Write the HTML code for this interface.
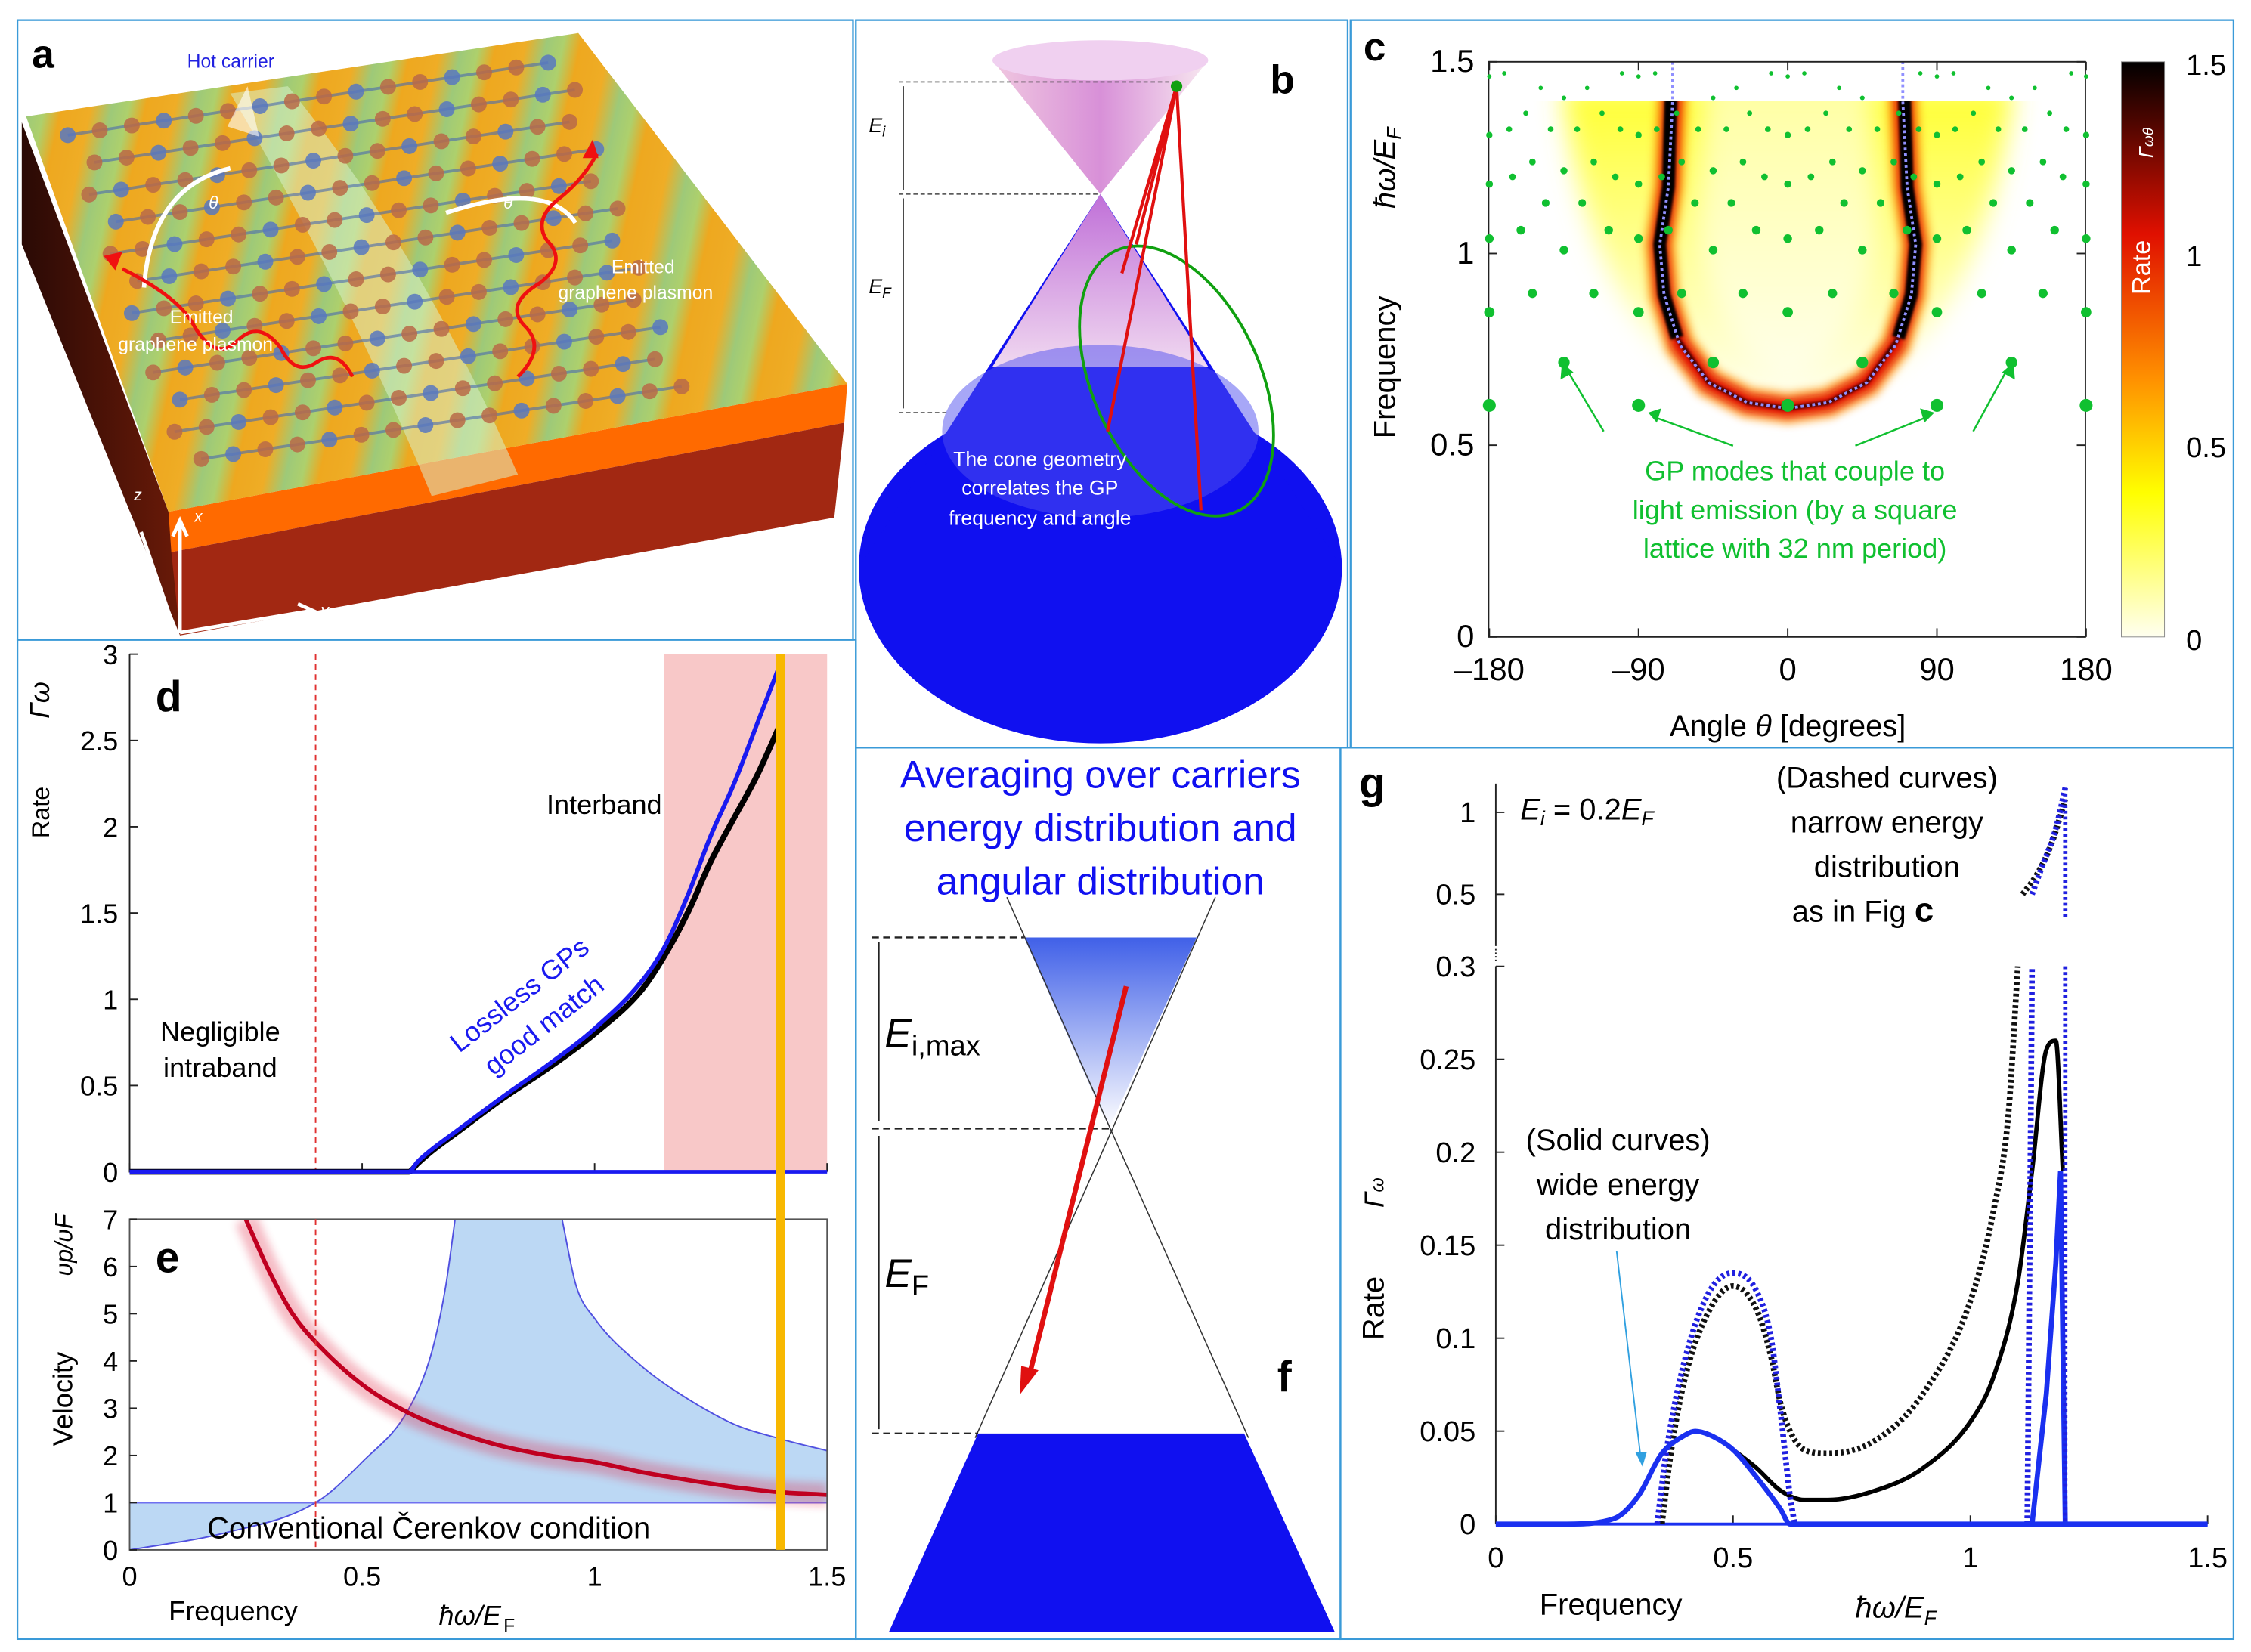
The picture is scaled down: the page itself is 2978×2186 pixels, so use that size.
<!DOCTYPE html>
<html><head><meta charset="utf-8"><style>
html,body{margin:0;padding:0;background:#fff;}
svg{display:block;font-family:"Liberation Sans",sans-serif;}
</style></head><body>
<svg id="fig" width="2978" height="2186" viewBox="0 0 1565 1149" xmlns="http://www.w3.org/2000/svg">
<defs>
<linearGradient id="stripes" gradientUnits="userSpaceOnUse" x1="0" y1="0" x2="56" y2="12" spreadMethod="repeat">
<stop offset="0" stop-color="#f09a20"/><stop offset="0.35" stop-color="#f2a028"/><stop offset="0.6" stop-color="#8cc490"/><stop offset="0.8" stop-color="#a0cc80"/><stop offset="1" stop-color="#f09a20"/></linearGradient>
<linearGradient id="leftg" x1="0" y1="0" x2="1" y2="0"><stop offset="0" stop-color="#2a0a05"/><stop offset="1" stop-color="#6a1a08"/></linearGradient>
<linearGradient id="cbar" x1="0" y1="0" x2="0" y2="1"><stop offset="0" stop-color="#000"/><stop offset="0.3" stop-color="#e01000"/><stop offset="0.55" stop-color="#ff9000"/><stop offset="0.75" stop-color="#ffff00"/><stop offset="1" stop-color="#fffff0"/></linearGradient>
<linearGradient id="cone1" x1="0" y1="0" x2="1" y2="0"><stop offset="0" stop-color="#f0c8e0"/><stop offset="0.5" stop-color="#d890d8"/><stop offset="1" stop-color="#f8e8f0"/></linearGradient>
<linearGradient id="cone2" x1="0" y1="0" x2="0" y2="1"><stop offset="0" stop-color="#c070d8"/><stop offset="1" stop-color="#f0d8f0"/></linearGradient>
<linearGradient id="fdots" x1="0" y1="0" x2="0" y2="1"><stop offset="0" stop-color="#4060e8"/><stop offset="1" stop-color="#ffffff"/></linearGradient>
<linearGradient id="heatv" x1="0" y1="0" x2="0" y2="1"><stop offset="0" stop-color="#ffff30"/><stop offset="0.5" stop-color="#ffff90"/><stop offset="1" stop-color="#fffff0"/></linearGradient>
<filter id="blur4" x="-30%" y="-30%" width="160%" height="160%"><feGaussianBlur stdDeviation="3"/></filter>
<filter id="blur8" x="-30%" y="-30%" width="160%" height="160%"><feGaussianBlur stdDeviation="9"/></filter>
<filter id="blur1"><feGaussianBlur stdDeviation="0.8"/></filter>
<clipPath id="cclip"><rect x="1035" y="70" width="415" height="373"/></clipPath>
<clipPath id="eclip"><rect x="90" y="848" width="485" height="230"/></clipPath>
</defs>

<g fill="none" stroke="#3a9ad8" stroke-width="1.2">
<rect x="12" y="14" width="581" height="431"/><rect x="595" y="14" width="342" height="506"/>
<rect x="939" y="14" width="614" height="506"/><rect x="12" y="445" width="583" height="695"/>
<rect x="595" y="520" width="337" height="620"/><rect x="932" y="520" width="621" height="620"/>
</g>

<g>
<polygon points="15,85 117,356 125,442 15,170" fill="url(#leftg)"/>
<polygon points="117,356 589,267 587,294 119,384" fill="#ff6a00"/>
<polygon points="119,384 587,294 580,360 125,442" fill="#a22812"/>
<polygon points="18,81 402,23 589,267 117,356" fill="url(#stripes)"/>
<polygon points="18,81 402,23 589,267 117,356" fill="#e8e020" opacity="0.2"/>
<path d="M200,60 Q290,170 360,330 L300,345 Q240,200 160,65 Z" fill="#d8f0c8" opacity="0.55"/>
<g id="lattice"></g>
<path d="M158,88 L172,60 L180,95" fill="#fff" opacity="0.6"/>
<path d="M100,200 Q105,130 160,117" stroke="#fff" stroke-width="3" fill="none"/>
<path d="M310,148 Q380,125 400,155" stroke="#fff" stroke-width="3" fill="none"/>
<path d="M245,262 q-10,-20 -25,-10 q-15,10 -25,-10 q-15,-20 -30,-5 q-15,15 -30,-10 q-10,-20 -50,-40" stroke="#f01010" stroke-width="2.5" fill="none"/>
<polygon points="72,178 85,175 80,188" fill="#f01010"/>
<path d="M360,262 q20,-20 5,-35 q-15,-15 10,-30 q20,-15 5,-30 q-10,-15 10,-30 q15,-12 25,-30" stroke="#f01010" stroke-width="2.5" fill="none"/>
<polygon points="412,97 405,110 416,110" fill="#f01010"/>
<text x="22" y="47" font-size="28" font-weight="bold">a</text>
<text x="130" y="47" font-size="13" fill="#2020e0">Hot carrier</text>
<text x="118" y="225" font-size="13" fill="#fff">Emitted</text>
<text x="82" y="244" font-size="13" fill="#fff">graphene plasmon</text>
<text x="425" y="190" font-size="13" fill="#fff">Emitted</text>
<text x="388" y="208" font-size="13" fill="#fff">graphene plasmon</text>
<text x="145" y="145" font-size="12" fill="#fff" font-style="italic">θ</text>
<text x="350" y="145" font-size="12" fill="#fff" font-style="italic">θ</text>
<path d="M125,440 L125,365 M120,373 L125,362 L130,373 M125,440 L215,425 M207,420 L218,425 L208,431 M122,440 L98,370" stroke="#fff" stroke-width="2.5" fill="none"/>
<text x="135" y="363" font-size="11" fill="#fff" font-style="italic">x</text>
<text x="223" y="428" font-size="11" fill="#fff" font-style="italic">y</text>
<text x="93" y="348" font-size="11" fill="#fff" font-style="italic">z</text>
</g>

<g>
<ellipse cx="765" cy="395" rx="168" ry="122" fill="#1010f0"/>
<polygon points="765,135 597,395 933,395" fill="#1010f0"/>
<polygon points="765,135 690,255 840,255" fill="url(#cone2)"/>
<ellipse cx="765" cy="300" rx="110" ry="60" fill="#5050f0" opacity="0.5"/>
<polygon points="690,42 840,42 765,135" fill="url(#cone1)"/>
<ellipse cx="765" cy="42" rx="75" ry="14" fill="#f0d0f0"/>
<g stroke="#444" stroke-dasharray="3,2" stroke-width="0.8"><line x1="625" y1="57" x2="818" y2="57"/><line x1="625" y1="135" x2="765" y2="135"/><line x1="625" y1="287" x2="660" y2="287"/></g>
<g stroke="#222" stroke-width="0.8"><line x1="628" y1="60" x2="628" y2="132"/><line x1="628" y1="138" x2="628" y2="284"/></g>
<text x="604" y="92" font-size="14" font-style="italic">E<tspan font-size="10" dy="3">i</tspan></text>
<text x="604" y="204" font-size="14" font-style="italic">E<tspan font-size="10" dy="3">F</tspan></text>
<ellipse cx="818" cy="265" rx="58" ry="100" transform="rotate(-25 818 265)" fill="none" stroke="#10a010" stroke-width="2"/>
<g stroke="#e01010" stroke-width="2.2"><line x1="818" y1="60" x2="770" y2="300"/><line x1="818" y1="60" x2="780" y2="190"/><line x1="818" y1="60" x2="835" y2="355"/><line x1="818" y1="60" x2="790" y2="170"/></g>
<circle cx="818" cy="60" r="4" fill="#10a010"/>
<text x="883" y="65" font-size="28" font-weight="bold">b</text>
<text x="723" y="324" font-size="14" fill="#fff" text-anchor="middle">The cone geometry</text>
<text x="723" y="344" font-size="14" fill="#fff" text-anchor="middle">correlates the GP</text>
<text x="723" y="365" font-size="14" fill="#fff" text-anchor="middle">frequency and angle</text>
</g>

<g id="pc">
<text x="948" y="42" font-size="28" font-weight="bold">c</text>
<g clip-path="url(#cclip)">
<path d="M1086,60 L1400,60 Q1380,220 1300,265 Q1243,300 1186,265 Q1105,220 1086,60Z" fill="url(#heatv)" filter="url(#blur8)"/>
<path d="M1185,60 L1301,60 L1305,160 Q1300,230 1243,270 Q1186,230 1181,160Z" fill="#fffff0" filter="url(#blur8)" opacity="0.6"/>
<path d="M1163,60 L1160,130 L1154,170 L1157,205 L1168,240 L1188,266 L1215,280 L1243,284 L1271,280 L1298,266 L1318,240 L1329,205 L1332,170 L1326,130 L1323,60" stroke="#ff9000" stroke-width="22" fill="none" filter="url(#blur4)" opacity="0.7"/>
<path d="M1163,60 L1160,130 L1154,170 L1157,205 L1168,240 L1188,266 L1215,280 L1243,284 L1271,280 L1298,266 L1318,240 L1329,205 L1332,170 L1326,130 L1323,60" stroke="#e01000" stroke-width="12" fill="none" filter="url(#blur4)"/>
<path d="M1162,60 L1160,130 L1154,170 L1157,205 L1166,235 M1320,235 L1329,205 L1332,170 L1326,130 L1324,60" stroke="#000" stroke-width="9" fill="none" filter="url(#blur1)"/>
<path d="M1166,235 L1188,266 L1215,280 L1243,284 L1271,280 L1298,266 L1320,235" stroke="#400000" stroke-width="3" fill="none" filter="url(#blur1)"/>
</g>
<path d="M1163,43 L1163,70 L1160,130 L1154,170 L1157,205 L1168,240 L1188,266 L1215,280 L1243,284 L1271,280 L1298,266 L1318,240 L1329,205 L1332,170 L1326,130 L1323,70 L1323,43" stroke="#9090ff" stroke-width="2" stroke-dasharray="2,2" fill="none"/>
<rect x="1035" y="43" width="415" height="400" fill="none" stroke="#222" stroke-width="1"/>
<g id="gdots" fill="#10c030"></g>
<rect x="1475" y="43" width="30" height="400" fill="url(#cbar)" stroke="#888" stroke-width="0.5"/>
<text x="1520" y="52" font-size="20">1.5</text><text x="1520" y="185" font-size="20">1</text><text x="1520" y="318" font-size="20">0.5</text><text x="1520" y="452" font-size="20">0</text>
<text transform="translate(1495,205) rotate(-90)" font-size="18" fill="#fff">Rate</text>
<text transform="translate(1497,110) rotate(-90)" font-size="14" fill="#fff" font-style="italic">Γ<tspan font-size="10">ωθ</tspan></text>
<g id="cxt" font-size="20" text-anchor="middle"></g>
<g id="cyt" font-size="20" text-anchor="end"></g>
<text x="1243" y="512" font-size="21" text-anchor="middle">Angle <tspan font-style="italic">θ</tspan> [degrees]</text>
<text transform="translate(970,305) rotate(-90)" font-size="21">Frequency</text>
<text transform="translate(970,145) rotate(-90)" font-size="21" font-style="italic">ħω/E<tspan font-size="14" dy="4">F</tspan></text>
<text x="1248" y="334" font-size="19" fill="#10c030" text-anchor="middle">GP modes that couple to</text>
<text x="1248" y="361" font-size="19" fill="#10c030" text-anchor="middle">light emission (by a square</text>
<text x="1248" y="388" font-size="19" fill="#10c030" text-anchor="middle">lattice with 32 nm period)</text>
<g stroke="#10c030" stroke-width="1.3"><line x1="1115" y1="300" x2="1090" y2="258"/><line x1="1205" y1="310" x2="1150" y2="290"/><line x1="1290" y1="310" x2="1340" y2="290"/><line x1="1372" y1="300" x2="1395" y2="258"/></g>
<g fill="#10c030"><polygon points="1086,252 1085,264 1094,259"/><polygon points="1146,287 1155,284 1152,294"/><polygon points="1345,287 1335,284 1338,294"/><polygon points="1400,252 1401,264 1392,259"/></g>
</g>

<g id="pd">
<text x="108" y="495" font-size="30" font-weight="bold">d</text>
</g>
<g id="pe">
<text x="108" y="885" font-size="30" font-weight="bold">e</text>
</g>

<g>
<text x="765" y="548" font-size="27" fill="#1010f0" text-anchor="middle">Averaging over carriers</text>
<text x="765" y="585" font-size="27" fill="#1010f0" text-anchor="middle">energy distribution and</text>
<text x="765" y="622" font-size="27" fill="#1010f0" text-anchor="middle">angular distribution</text>
<polygon points="712,652 832,652 771,785" fill="url(#fdots)"/>
<g stroke="#333" stroke-width="0.8"><line x1="700" y1="624" x2="868" y2="1000"/><line x1="845" y1="624" x2="678" y2="1000"/></g>
<polygon points="680,997 865,997 928,1135 618,1135" fill="#1010f0"/>
<g stroke="#222" stroke-dasharray="5,3" stroke-width="1.2"><line x1="606" y1="652" x2="712" y2="652"/><line x1="606" y1="785" x2="771" y2="785"/><line x1="606" y1="997" x2="680" y2="997"/></g>
<g stroke="#222" stroke-width="1"><line x1="611" y1="655" x2="611" y2="780"/><line x1="611" y1="790" x2="611" y2="994"/></g>
<text x="615" y="728" font-size="28" font-style="italic">E<tspan font-size="20" font-style="normal" dy="6">i,max</tspan></text>
<text x="615" y="895" font-size="28" font-style="italic">E<tspan font-size="20" font-style="normal" dy="6">F</tspan></text>
<line x1="783" y1="686" x2="716" y2="955" stroke="#e01010" stroke-width="3.5"/>
<polygon points="709,970 710,950 722,953" fill="#e01010"/>
<text x="888" y="968" font-size="30" font-weight="bold">f</text>
</g>

<g id="pg">
<text x="945" y="555" font-size="30" font-weight="bold">g</text>
<text x="1057" y="570" font-size="21" font-style="italic">E<tspan font-size="14" dy="4">i</tspan><tspan dy="-4" font-style="normal"> = 0.2</tspan>E<tspan font-size="14" dy="4">F</tspan></text>
<text x="1312" y="548" font-size="21" text-anchor="middle">(Dashed curves)</text>
<text x="1312" y="579" font-size="21" text-anchor="middle">narrow energy</text>
<text x="1312" y="610" font-size="21" text-anchor="middle">distribution</text>
<text x="1246" y="641" font-size="21">as in Fig <tspan font-weight="bold" font-size="24">c</tspan></text>
<text x="1125" y="800" font-size="21" text-anchor="middle">(Solid curves)</text>
<text x="1125" y="831" font-size="21" text-anchor="middle">wide energy</text>
<text x="1125" y="862" font-size="21" text-anchor="middle">distribution</text>
<line x1="1124" y1="870" x2="1141" y2="1016" stroke="#30a0e0" stroke-width="1"/>
<polygon points="1137,1010 1145,1010 1142,1020" fill="#30a0e0"/>
<text transform="translate(962,932) rotate(-90)" font-size="21">Rate</text>
<text transform="translate(962,840) rotate(-90)" font-size="19" font-style="italic">Γ<tspan font-size="13">ω</tspan></text>
<text x="1120" y="1123" font-size="21" text-anchor="middle">Frequency</text>
<text x="1290" y="1125" font-size="21" font-style="italic">ħω/E<tspan font-size="14" dy="5">F</tspan></text>
</g>
</svg>

<script>
// ---------- Panel c data ----------
var cAngleTicks=[-180,-90,0,90,180];
var cAngleLabels=["\u2013180","\u201390","0","90","180"];
var cFreqTicks=[0,0.5,1,1.5];
var cFreqLabels=["0","0.5","1","1.5"];
var cDotFreqs=[0.604,0.716,0.847,0.896,1.009,1.039,1.061,1.132,1.181,1.200,1.216,1.239,1.309,1.324,1.366,1.406,1.432,1.462,1.47];
var cDotAngles=[[0,90,180],[45,135],[0,90,180],[27,64,117,154],[45,135],[0,90,180],[19,72,108,161],[34,56,124,146],[0,90,180],[14,76,104,166],[45,135],[27,64,117,154],[0,90,180],[12,37,54,79,101,127,143,168],[23,67,112,158],[45,135],[31,121,149],[0,90,180],[10,80,100,171]];
var cDotSizes=[4.5,4,3.6,3.2,3,3,3,2.7,2.5,2.3,2.5,2.3,2.2,2,1.8,1.6,1.5,1.5,1.5];
// ---------- Panel d data ----------
var dXTicks=[0,0.5,1,1.5];
var dYTicks=[0,0.5,1,1.5,2,2.5,3];
var dYLabels=["0","0.5","1","1.5","2","2.5","3"];
var dFreqBlack=[0,0.3,0.6,0.62,0.65,0.7,0.8,0.9,1.0,1.1,1.15,1.2,1.25,1.3,1.35,1.4];
var dRateBlack=[0,0,0,0.05,0.12,0.22,0.42,0.6,0.8,1.05,1.25,1.5,1.8,2.05,2.3,2.6];
var dFreqBlue=[0,0.3,0.6,0.62,0.65,0.7,0.8,0.9,1.0,1.1,1.15,1.2,1.25,1.3,1.35,1.4];
var dRateBlue=[0,0,0,0.06,0.13,0.23,0.43,0.62,0.83,1.1,1.3,1.6,1.95,2.25,2.6,2.95];
// ---------- Panel e data ----------
var eXTicks=[0,0.5,1,1.5];
var eXLabels=["0","0.5","1","1.5"];
var eYTicks=[0,1,2,3,4,5,6,7];
var eFreqRed=[0.25,0.3,0.35,0.4,0.5,0.6,0.7,0.8,0.9,1.0,1.1,1.2,1.3,1.4,1.5];
var eVelRed=[7,5.9,5.0,4.4,3.5,2.9,2.5,2.2,2.0,1.86,1.65,1.48,1.33,1.22,1.17];
var eFreqLeft=[0,0.2,0.4,0.5,0.6,0.65,0.68,0.7];
var eVelLeft=[0,0.35,1,1.86,2.98,4.2,5.6,7];
var eFreqRight=[0.93,0.96,1.0,1.1,1.2,1.3,1.4,1.5];
var eVelRight=[7,5.6,4.9,3.9,3.2,2.66,2.35,2.1];
// ---------- Panel g data ----------
var gXTicks=[0,0.5,1,1.5];
var gYTicksLow=[0,0.05,0.1,0.15,0.2,0.25,0.3];
var gYLabelsLow=["0","0.05","0.1","0.15","0.2","0.25","0.3"];
var gYTicksHigh=[0.5,1];
var gFreqBlackSolid=[0.5,0.55,0.6,0.65,0.7,0.8,0.9,1.0,1.05,1.1,1.13,1.16,1.18,1.195];
var gRateBlackSolid=[0.04,0.03,0.018,0.013,0.013,0.018,0.03,0.055,0.08,0.13,0.19,0.255,0.26,0.19];
var gFreqBlueSolid=[0,0.15,0.25,0.3,0.35,0.4,0.42,0.45,0.5,0.55,0.6,0.62,1.5];
var gRateBlueSolid=[0,0,0.003,0.015,0.038,0.048,0.05,0.048,0.04,0.025,0.008,0,0];
var gFreqBlueSpike=[1.13,1.16,1.18,1.19,1.2];
var gRateBlueSpike=[0,0.07,0.14,0.19,0];
var gFreqBlackDot=[0.35,0.37,0.4,0.45,0.5,0.55,0.58,0.6,0.62,0.65,0.7,0.8,0.9,1.0,1.05,1.08,1.1];
var gRateBlackDot=[0,0.04,0.08,0.115,0.128,0.115,0.09,0.065,0.05,0.04,0.038,0.045,0.07,0.12,0.17,0.22,0.3];
var gFreqBlueDot=[0.34,0.36,0.4,0.45,0.5,0.55,0.58,0.6,0.62,0.63];
var gRateBlueDot=[0,0.04,0.09,0.125,0.135,0.125,0.1,0.06,0.015,0];
var gFreqBlueDot2=[1.12,1.125,1.13];
var gRateBlueDot2=[0,0.15,0.3];
var gFreqUpperBlack=[1.11,1.14,1.17,1.19,1.2];
var gRateUpperBlack=[0.5,0.62,0.8,0.98,1.08];
var gFreqUpperBlue=[1.13,1.15,1.18,1.2];
var gRateUpperBlue=[0.5,0.66,0.9,1.15];

var NS="http://www.w3.org/2000/svg";
function mk(tag,attrs,parent){var e=document.createElementNS(NS,tag);for(var k in attrs)e.setAttribute(k,attrs[k]);parent.appendChild(e);return e;}
function txt(s,x,y,parent,size,anchor){var t=mk('text',{x:x,y:y,'font-size':size,'text-anchor':anchor||'middle'},parent);t.textContent=s;return t;}
function pathD(xs,ys,sx,sy){var d='';for(var i=0;i<xs.length;i++)d+=(i?'L':'M')+sx(xs[i]).toFixed(1)+','+sy(ys[i]).toFixed(1);return d;}
// monotone cubic (Fritsch-Carlson) in pixel space; no overshoot
function smoothD(xs,ys,sx,sy){var n=xs.length,X=[],Y=[];for(var i=0;i<n;i++){X.push(sx(xs[i]));Y.push(sy(ys[i]));}
if(n<3)return pathD(xs,ys,sx,sy);
var dl=[],m=[];for(var i=0;i<n-1;i++){var h=X[i+1]-X[i];dl.push(h===0?0:(Y[i+1]-Y[i])/h);}
m[0]=dl[0];m[n-1]=dl[n-2];
for(var i=1;i<n-1;i++){if(dl[i-1]*dl[i]<=0)m[i]=0;else m[i]=(dl[i-1]+dl[i])/2;}
for(var i=0;i<n-1;i++){if(dl[i]===0){m[i]=0;m[i+1]=0;continue;}var a=m[i]/dl[i],b=m[i+1]/dl[i],s=a*a+b*b;if(s>9){var t=3/Math.sqrt(s);m[i]=t*a*dl[i];m[i+1]=t*b*dl[i];}}
var d='M'+X[0].toFixed(1)+','+Y[0].toFixed(1);
for(var i=0;i<n-1;i++){var h=(X[i+1]-X[i])/3;
d+='C'+(X[i]+h).toFixed(1)+','+(Y[i]+m[i]*h).toFixed(1)+' '+(X[i+1]-h).toFixed(1)+','+(Y[i+1]-m[i+1]*h).toFixed(1)+' '+X[i+1].toFixed(1)+','+Y[i+1].toFixed(1);}
return d;}

// Panel c
var pc=document.getElementById('pc');
var csx=function(a){return 1243+a*(415/360);}, csy=function(f){return 443-f*(400/1.5);};
var gd=document.getElementById('gdots');
cDotFreqs.forEach(function(f,ri){cDotAngles[ri].forEach(function(a){var list=a===0?[0]:[a,-a];list.forEach(function(aa){
var c=mk('circle',{cx:csx(aa),cy:csy(f),r:cDotSizes[ri]},gd);

});});});
cAngleTicks.forEach(function(v,i){txt(cAngleLabels[i],csx(v),473,document.getElementById('cxt'),22);mk('line',{x1:csx(v),y1:443,x2:csx(v),y2:437,stroke:'#222'},pc);mk('line',{x1:csx(v),y1:43,x2:csx(v),y2:49,stroke:'#222'},pc);});
cFreqTicks.forEach(function(v,i){txt(cFreqLabels[i],1025,csy(v)+7,document.getElementById('cyt'),22,'end');mk('line',{x1:1035,y1:csy(v),x2:1041,y2:csy(v),stroke:'#222'},pc);mk('line',{x1:1450,y1:csy(v),x2:1444,y2:csy(v),stroke:'#222'},pc);});

// Panel d
var pd=document.getElementById('pd');
var dsx=function(x){return 90+x*(485/1.5);}, dsy=function(y){return 815-y*120;};
mk('rect',{x:dsx(1.15),y:455,width:dsx(1.5)-dsx(1.15),height:360,fill:'#f8c8c8'},pd);
mk('line',{x1:dsx(0.4),y1:455,x2:dsx(0.4),y2:815,stroke:'#e03030','stroke-dasharray':'4,3','stroke-width':1},pd);
mk('polyline',{points:'90,455 90,815 575,815',fill:'none',stroke:'#222'},pd);
dYTicks.forEach(function(v,i){txt(dYLabels[i],82,dsy(v)+7,pd,19,'end');mk('line',{x1:90,y1:dsy(v),x2:96,y2:dsy(v),stroke:'#222'},pd);});
dXTicks.forEach(function(v){mk('line',{x1:dsx(v),y1:815,x2:dsx(v),y2:809,stroke:'#222'},pd);});
var bl=mk('path',{d:smoothD(dFreqBlack,dRateBlack,dsx,dsy),fill:'none',stroke:'#000','stroke-width':4},pd);


var bu=mk('path',{d:smoothD(dFreqBlue,dRateBlue,dsx,dsy),fill:'none',stroke:'#1a1af0','stroke-width':3},pd);


mk('line',{x1:dsx(0.6),y1:815,x2:575,y2:815,stroke:'#1a1af0','stroke-width':2.5},pd);
txt('Interband',420,566,pd,19);txt('Negligible',153,724,pd,19);txt('intraband',153,749,pd,19);
var lt=txt('Lossless GPs',0,0,pd,19);lt.setAttribute('fill','#1a1af0');lt.setAttribute('transform','translate(365,697) rotate(-38)');
var lt2=txt('good match',0,0,pd,19);lt2.setAttribute('fill','#1a1af0');lt2.setAttribute('transform','translate(382,718) rotate(-38)');
var r1=txt('Rate',0,0,pd,17);r1.setAttribute('transform','translate(34,565) rotate(-90)');
var r2=txt('Γω',0,0,pd,19);r2.setAttribute('transform','translate(34,487) rotate(-90)');r2.setAttribute('font-style','italic');

// Panel e
var pe=document.getElementById('pe');
var esx=dsx, esy=function(v){return 1078-v*(230/7);};
var eg=mk('g',{'clip-path':'url(#eclip)'},pe);
var shade=smoothD(eFreqLeft,eVelLeft,esx,esy)+'L'+esx(eFreqRight[0])+','+esy(7)+smoothD(eFreqRight,eVelRight,esx,esy).replace('M','L')+'L575,'+esy(1)+'L90,'+esy(1)+'Z';
mk('path',{d:shade,fill:'#bcd8f4'},eg);
mk('path',{d:smoothD(eFreqLeft,eVelLeft,esx,esy),fill:'none',stroke:'#5050e0','stroke-width':1},eg);
mk('path',{d:smoothD(eFreqRight,eVelRight,esx,esy),fill:'none',stroke:'#5050e0','stroke-width':1},eg);
mk('line',{x1:90,y1:esy(1),x2:575,y2:esy(1),stroke:'#7070f0','stroke-width':1.2},eg);
mk('path',{d:smoothD(eFreqRed,eVelRed,esx,esy),fill:'none',stroke:'#e02040','stroke-width':16,opacity:0.3,filter:'url(#blur4)'},eg);
var rc2=mk('path',{d:smoothD(eFreqRed,eVelRed,esx,esy),fill:'none',stroke:'#c00020','stroke-width':3},eg);


mk('rect',{x:90,y:848,width:485,height:230,fill:'none',stroke:'#555'},pe);
mk('line',{x1:dsx(0.4),y1:848,x2:dsx(0.4),y2:1078,stroke:'#e03030','stroke-dasharray':'4,3'},pe);
mk('line',{x1:dsx(1.4),y1:455,x2:dsx(1.4),y2:1078,stroke:'#f8b800','stroke-width':6},pe);
eYTicks.forEach(function(v){txt(String(v),82,esy(v)+7,pe,19,'end');mk('line',{x1:90,y1:esy(v),x2:95,y2:esy(v),stroke:'#222'},pe);});
eXTicks.forEach(function(v,i){txt(eXLabels[i],esx(v),1103,pe,19);});
txt('Conventional Čerenkov condition',298,1070,pe,21);
txt('Frequency',162,1127,pe,19);
var hw=txt('ħω/E',305,1130,pe,19,'start');hw.setAttribute('font-style','italic');
var hs=txt('F',350,1135,pe,13,'start');
var ve=txt('Velocity',0,0,pe,19);ve.setAttribute('transform','translate(50,973) rotate(-90)');
var vp=txt('υp/υF',0,0,pe,17);vp.setAttribute('transform','translate(50,866) rotate(-90)');vp.setAttribute('font-style','italic');

// Panel g
var pg=document.getElementById('pg');
var gsx=function(x){return 1040+x*330;}, gsyL=function(y){return 1060-y*1293;}, gsyH=function(y){return 622-(y-0.5)*114;};
mk('line',{x1:1040,y1:1060,x2:1040,y2:672,stroke:'#222'},pg);
mk('line',{x1:1040,y1:658,x2:1040,y2:545,stroke:'#222'},pg);
mk('line',{x1:1040,y1:660,x2:1040,y2:670,stroke:'#222','stroke-dasharray':'1,1.5'},pg);
gYTicksLow.forEach(function(v,i){txt(gYLabelsLow[i],1026,gsyL(v)+7,pg,20,'end');mk('line',{x1:1040,y1:gsyL(v),x2:1046,y2:gsyL(v),stroke:'#222'},pg);});
gYTicksHigh.forEach(function(v){txt(String(v),1026,gsyH(v)+7,pg,20,'end');mk('line',{x1:1040,y1:gsyH(v),x2:1046,y2:gsyH(v),stroke:'#222'},pg);});
gXTicks.forEach(function(v){txt(String(v),gsx(v),1090,pg,20);mk('line',{x1:gsx(v),y1:1060,x2:gsx(v),y2:1054,stroke:'#222'},pg);});
function gl(xs,ys,sy,color,w,dash,name,straight){var p=mk('path',{d:straight?pathD(xs,ys,gsx,sy):smoothD(xs,ys,gsx,sy),fill:'none',stroke:color,'stroke-width':w},pg);if(dash)p.setAttribute('stroke-dasharray',dash);

}
mk('line',{x1:1040,y1:1060,x2:1535,y2:1060,stroke:'#1a30f0','stroke-width':2},pg);
gl(gFreqBlackDot,gRateBlackDot,gsyL,'#111',4,'2,2','narrow-black-dotted');
gl(gFreqUpperBlack,gRateUpperBlack,gsyH,'#111',4,'2,2','narrow-black-dotted-upper');
gl(gFreqBlackSolid,gRateBlackSolid,gsyL,'#000',3,null,'wide-black-solid');
gl(gFreqBlueDot,gRateBlueDot,gsyL,'#2020e0',4,'2,2','narrow-blue-dotted');
gl(gFreqBlueDot2,gRateBlueDot2,gsyL,'#2020e0',4,'2,2','narrow-blue-dotted-spike',true);
gl(gFreqUpperBlue,gRateUpperBlue,gsyH,'#2020e0',4,'2,2','narrow-blue-dotted-upper');
gl(gFreqBlueSolid,gRateBlueSolid,gsyL,'#1a30f0',3.5,null,'wide-blue-solid');
gl(gFreqBlueSpike,gRateBlueSpike,gsyL,'#1a30f0',3.5,null,'wide-blue-spike',true);
mk('line',{x1:gsx(1.2),y1:gsyL(0.3),x2:gsx(1.2),y2:1060,stroke:'#2020e0','stroke-width':3,'stroke-dasharray':'2,2'},pg);
mk('line',{x1:gsx(1.2),y1:gsyH(1.15),x2:gsx(1.2),y2:gsyH(0.35),stroke:'#2020e0','stroke-width':3,'stroke-dasharray':'2,2'},pg);

// lattice atoms panel a (parametric over top face)
var lat=document.getElementById('lattice');
var A=[18,81],B=[402,23],D=[117,356];
for(var i=0;i<16;i++)for(var j=0;j<12;j++){var u=0.06+i*0.058+(j%2)*0.029, v=0.06+j*0.075;
var x=A[0]+u*(B[0]-A[0])+v*(D[0]-A[0]), y=A[1]+u*(B[1]-A[1])+v*(D[1]-A[1]);
if(i<15){var u2=u+0.058;var x2=A[0]+u2*(B[0]-A[0])+v*(D[0]-A[0]),y2=A[1]+u2*(B[1]-A[1])+v*(D[1]-A[1]);mk('line',{x1:x,y1:y,x2:x2,y2:y2,stroke:'#4a6ab0','stroke-width':2,opacity:0.6},lat);}
var c=mk('circle',{cx:x,cy:y,r:5.5,fill:(i+j)%3==0?'#5878c0':'#b86a48',opacity:0.85},lat);

}
</script>
</body></html>
